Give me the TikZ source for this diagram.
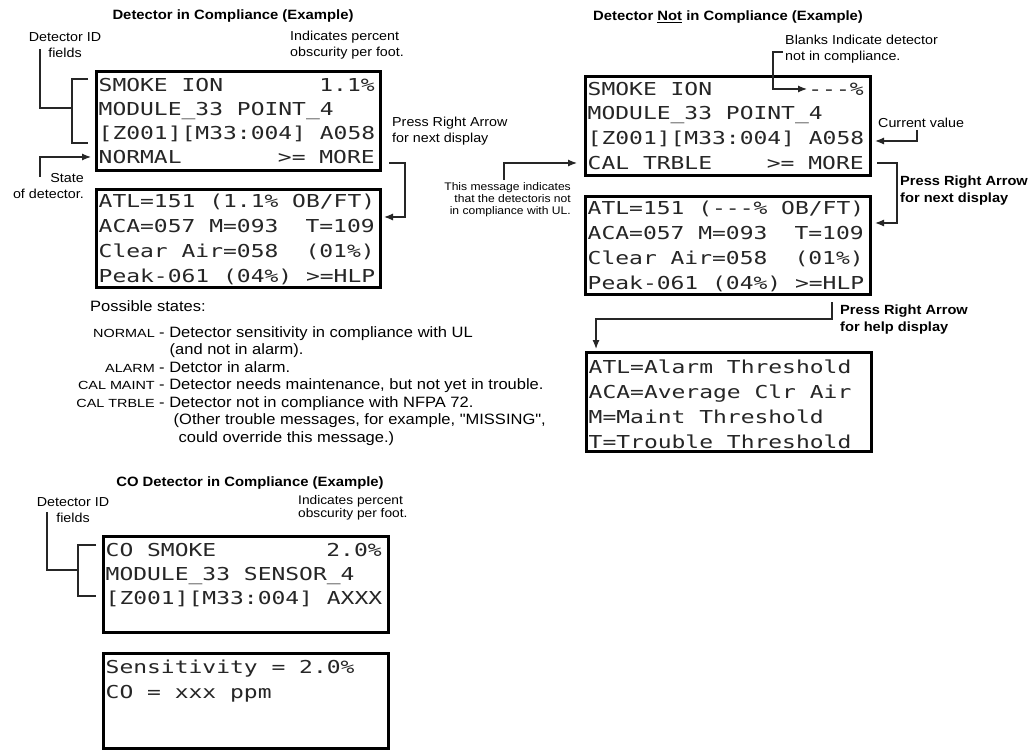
\documentclass[tikz,border=0pt]{standalone}
\usepackage{fontspec}
\usetikzlibrary{arrows.meta}
\setmainfont{Liberation Sans}
\newfontfamily\annfont{Liberation Sans}[FakeStretch=1.1]
\newfontfamily\lblfont{Liberation Sans}[FakeStretch=1.22]
\newfontfamily\lcdfont{DejaVu Sans Mono}[FakeStretch=1.29]
\newcommand{\lr}[2]{\makebox[276pt][l]{#1\hfill#2}}
\tikzset{
  lcdbox/.style={draw=black, line width=3pt, inner sep=0pt, fill=white},
  lcdrow/.style={anchor=base west, inner sep=0pt, text=black!85, font=\lcdfont\fontsize{17.8}{20}\selectfont},
  ann/.style={inner sep=0pt, font=\annfont\fontsize{13}{16}\selectfont},
  annc/.style={inner sep=0pt, font=\annfont\fontsize{12.5}{12.5}\selectfont},
  annb/.style={inner sep=0pt, font=\annfont\bfseries\fontsize{13.3}{17}\selectfont},
  ttl/.style={inner sep=0pt, font=\annfont\bfseries\fontsize{13.5}{16}\selectfont},
  smallann/.style={inner sep=0pt, font=\annfont\fontsize{11}{12}\selectfont},
  desc/.style={anchor=base west, inner sep=0pt, font=\annfont\fontsize{15}{18}\selectfont},
  lbl/.style={anchor=base east, inner sep=0pt, font=\lblfont\fontsize{11.8}{14}\selectfont},
  conn/.style={draw=black!85, line width=1.2pt},
  arr/.style={-{Latex[length=9pt,width=7pt]}},
}
\begin{document}
\begin{tikzpicture}[x=1pt,y=-1pt]
\fill[white] (0,0) rectangle (1030,751);
\useasboundingbox (0,0) rectangle (1030,751);

% ---------- titles
\node[ttl] (tL) at (233,16) {Detector in Compliance (Example)};
\node[ttl] (tR) at (728,17) {Detector \underline{Not} in Compliance (Example)};
\node[ttl] (tC) at (250,483) {CO Detector in Compliance (Example)};

% ---------- left: detector in compliance
\node[lcdbox, minimum width=284pt, minimum height=99pt] (L1) at (238.5,121) {};
\node[lcdrow] (L1a) at (98.5,91.5) {\lr{SMOKE ION}{1.1\%}};
\node[lcdrow] (L1b) at (98.5,115.5) {\lr{MODULE\_33 POINT\_4}{}};
\node[lcdrow] (L1c) at (98.5,139.5) {\lr{[Z001][M33:004] A058}{}};
\node[lcdrow] (L1d) at (98.5,163.5) {\lr{NORMAL}{>= MORE}};

\node[lcdbox, minimum width=284pt, minimum height=98pt] (L2) at (238.5,238.5) {};
\node[lcdrow] (L2a) at (98.5,207.5) {\lr{ATL=151 (1.1\% OB/FT)}{}};
\node[lcdrow] (L2b) at (98.5,232.5) {\lr{ACA=057 M=093}{T=109}};
\node[lcdrow] (L2c) at (98.5,257.5) {\lr{Clear Air=058}{(01\%)}};
\node[lcdrow] (L2d) at (98.5,282.5) {\lr{Peak-061 (04\%) >=HLP}{}};

\node[ann, align=center] (idL) at (65,45) {Detector ID\\fields};
\node[ann, align=left, anchor=west] (obL) at (290,45) {Indicates percent\\obscurity per foot.};
\node[ann, align=right, anchor=east] (stL) at (84,186) {State\\of detector.};
\node[ann, align=left, anchor=west] (pL) at (392,131) {Press Right Arrow\\for next display};

\coordinate (bL1) at (88,79);
\coordinate (bL2) at (88,143);
\coordinate (bLm) at (72,108);
\coordinate (bLt) at (40,49);
\draw[conn] (bL1) -- (72,79) -- (72,143) -- (bL2);
\draw[conn] (bLm) -- (40,108) -- (bLt);
\coordinate (sLs) at (40,177);
\coordinate (sLe) at (91,157);
\draw[conn,arr] (sLs) -- (40,157) -- (sLe);
\coordinate (pLs) at (389,163);
\coordinate (pLe) at (384,217);
\draw[conn,arr] (pLs) -- (405,163) -- (405,217) -- (pLe);

% ---------- possible states
\node[desc] (ps) at (90,311) {Possible states:};
\node[lbl] (sN) at (155,337) {NORMAL};
\node[desc] (dN) at (159,337) {- Detector sensitivity in compliance with UL};
\node[desc] (dN2) at (169.5,354.5) {(and not in alarm).};
\node[lbl] (sA) at (155,372) {ALARM};
\node[desc] (dA) at (159,372) {- Detctor in alarm.};
\node[lbl] (sM) at (155,389.5) {CAL MAINT};
\node[desc] (dM) at (159,389.5) {- Detector needs maintenance, but not yet in trouble.};
\node[lbl] (sT) at (155,407) {CAL TRBLE};
\node[desc] (dT) at (159,407) {- Detector not in compliance with NFPA 72.};
\node[desc] (dT2) at (173.5,424.5) {(Other trouble messages, for example, "MISSING",};
\node[desc] (dT3) at (178.5,442) {could override this message.)};

% ---------- right: detector not in compliance
\node[lcdbox, minimum width=285pt, minimum height=99pt] (R1) at (728,126) {};
\node[lcdrow] (R1a) at (587.5,95.5) {\lr{SMOKE ION}{-{}-{}-\%}};
\node[lcdrow] (R1b) at (587.5,119.5) {\lr{MODULE\_33 POINT\_4}{}};
\node[lcdrow] (R1c) at (587.5,144.5) {\lr{[Z001][M33:004] A058}{}};
\node[lcdrow] (R1d) at (587.5,169.5) {\lr{CAL TRBLE}{>= MORE}};

\node[lcdbox, minimum width=285pt, minimum height=98pt] (R2) at (728,245.5) {};
\node[lcdrow] (R2a) at (587.5,214.5) {\lr{ATL=151 (-{}-{}-\% OB/FT)}{}};
\node[lcdrow] (R2b) at (587.5,239.5) {\lr{ACA=057 M=093}{T=109}};
\node[lcdrow] (R2c) at (587.5,264.5) {\lr{Clear Air=058}{(01\%)}};
\node[lcdrow] (R2d) at (587.5,289.5) {\lr{Peak-061 (04\%) >=HLP}{}};

\node[lcdbox, minimum width=285pt, minimum height=99pt] (H) at (729,402) {};
\node[lcdrow] (Ha) at (588.5,373.5) {\lr{ATL=Alarm Threshold}{}};
\node[lcdrow] (Hb) at (588.5,398.5) {\lr{ACA=Average Clr Air}{}};
\node[lcdrow] (Hc) at (588.5,423.5) {\lr{M=Maint Threshold}{}};
\node[lcdrow] (Hd) at (588.5,448.5) {\lr{T=Trouble Threshold}{}};

\node[ann, align=left, anchor=west] (blR) at (785,49) {Blanks Indicate detector\\not in compliance.};
\node[ann, anchor=west] (cvR) at (878,123) {Current value};
\node[annb, align=left, anchor=west] (pR) at (900,191) {Press Right Arrow\\for next display};
\node[smallann, align=right, anchor=east] (msgR) at (571,200) {This message indicates\\that the detectoris not\\in compliance with UL.};
\node[annb, align=left, anchor=west] (phR) at (840,320) {Press Right Arrow\\for help display};

\coordinate (blS) at (783,52);
\coordinate (blE) at (807,89);
\draw[conn,arr] (blS) -- (773,52) -- (773,89) -- (blE);
\coordinate (cvS) at (917,130);
\coordinate (cvE) at (875,141);
\draw[conn,arr] (cvS) -- (917,141) -- (cvE);
\coordinate (pRs) at (877,163);
\coordinate (pRe) at (875,223);
\draw[conn,arr] (pRs) -- (897,163) -- (897,223) -- (pRe);
\coordinate (msS) at (504,180);
\coordinate (msE) at (577,163);
\draw[conn,arr] (msS) -- (504,163) -- (msE);
\coordinate (phS) at (832,302);
\coordinate (phE) at (596,349);
\draw[conn,arr] (phS) -- (832,319) -- (596,319) -- (phE);

% ---------- CO detector
\node[lcdbox, minimum width=285pt, minimum height=96pt] (C1) at (246,584.5) {};
\node[lcdrow] (C1a) at (105.5,556.5) {\lr{CO SMOKE}{2.0\%}};
\node[lcdrow] (C1b) at (105.5,580.5) {\lr{MODULE\_33 SENSOR\_4}{}};
\node[lcdrow] (C1c) at (105.5,604.5) {\lr{[Z001][M33:004] AXXX}{}};

\node[lcdbox, minimum width=285pt, minimum height=95pt] (C2) at (246,701) {};
\node[lcdrow] (C2a) at (105.5,673.5) {\lr{Sensitivity = 2.0\%}{}};
\node[lcdrow] (C2b) at (105.5,698.5) {\lr{CO = xxx ppm}{}};

\node[ann, align=center] (idC) at (73,510) {Detector ID\\fields};
\node[annc, align=left, anchor=west] (obC) at (298,508) {Indicates percent\\obscurity per foot.};
\coordinate (bC1) at (96,545);
\coordinate (bC2) at (96,596);
\coordinate (bCm) at (78,570);
\coordinate (bCt) at (47,512);
\draw[conn] (bC1) -- (78,545) -- (78,596) -- (bC2);
\draw[conn] (bCm) -- (47,570) -- (bCt);
\end{tikzpicture}
\end{document}
